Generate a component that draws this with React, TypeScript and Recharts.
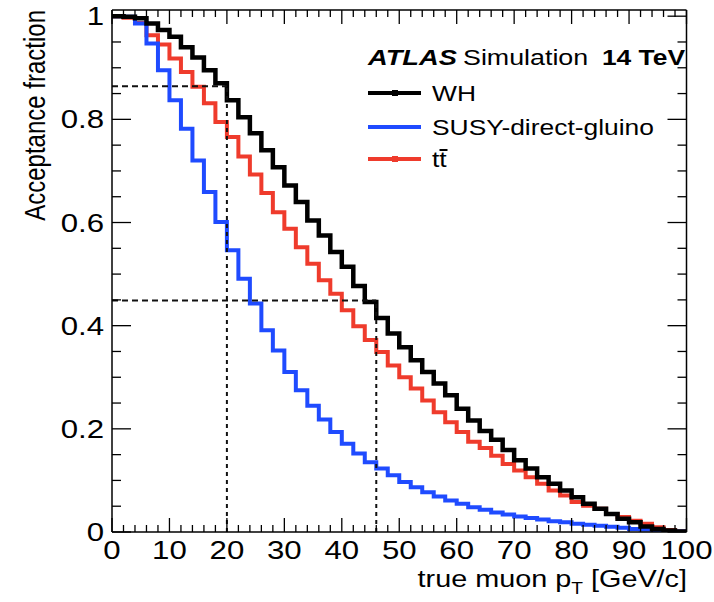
import React from 'react';
import { LineChart, Line, XAxis, YAxis, ReferenceLine } from 'recharts';

// lower edge of each 2 GeV bin
const binLow = [
    0, 2, 4, 6, 8, 10, 12, 14, 16, 18, 20, 22, 24, 26, 28, 30, 32, 34, 36, 38, 40, 42, 44, 46, 48,
    50, 52, 54, 56, 58, 60, 62, 64, 66, 68, 70, 72, 74, 76, 78, 80, 82, 84, 86, 88, 90, 92, 94, 96, 98
];

const whAcc = [
    1.0, 0.999, 0.996, 0.986, 0.973, 0.96, 0.94, 0.92, 0.895, 0.87, 0.837, 0.804, 0.773, 0.74, 0.707,
    0.672, 0.64, 0.604, 0.575, 0.543, 0.514, 0.477, 0.446, 0.415, 0.385, 0.358, 0.333, 0.31, 0.288,
    0.265, 0.239, 0.216, 0.196, 0.179, 0.159, 0.139, 0.123, 0.106, 0.0935, 0.0805, 0.0675, 0.0547,
    0.045, 0.035, 0.0256, 0.019, 0.0107, 0.006, 0.003, 0.001
];

const susyAcc = [
    1.0, 0.999, 0.986, 0.947, 0.895, 0.837, 0.782, 0.72, 0.659, 0.601, 0.546, 0.491, 0.443, 0.391,
    0.352, 0.31, 0.275, 0.245, 0.218, 0.194, 0.171, 0.152, 0.135, 0.123, 0.11, 0.097, 0.087, 0.077,
    0.069, 0.061, 0.055, 0.048, 0.043, 0.038, 0.034, 0.03, 0.027, 0.024, 0.021, 0.019, 0.016, 0.014,
    0.012, 0.01, 0.008, 0.006, 0.005, 0.003, 0.002, 0.001
];

const ttAcc = [
    1.0, 0.997, 0.987, 0.963, 0.945, 0.918, 0.892, 0.863, 0.831, 0.795, 0.766, 0.728, 0.693, 0.657,
    0.62, 0.588, 0.552, 0.52, 0.488, 0.462, 0.43, 0.399, 0.372, 0.349, 0.323, 0.3, 0.278, 0.255,
    0.232, 0.213, 0.194, 0.175, 0.163, 0.148, 0.132, 0.119, 0.106, 0.0935, 0.0805, 0.071, 0.058,
    0.051, 0.045, 0.035, 0.029, 0.022, 0.016, 0.009, 0.004, 0.001
];

// dashed guide lines: cut in pT and the WH acceptance there
const cutPt = [20, 46];
const cutAcc = [0.864, 0.449];

const xTicks = [
    0, 2, 4, 6, 8, 10, 12, 14, 16, 18, 20, 22, 24, 26, 28, 30, 32, 34, 36, 38, 40, 42, 44, 46, 48, 50,
    52, 54, 56, 58, 60, 62, 64, 66, 68, 70, 72, 74, 76, 78, 80, 82, 84, 86, 88, 90, 92, 94, 96, 98, 100
];
const yTicks = [
    0, 0.05, 0.1, 0.15, 0.2, 0.25, 0.3, 0.35, 0.4, 0.45, 0.5, 0.55, 0.6, 0.65, 0.7, 0.75, 0.8, 0.85,
    0.9, 0.95, 1
];
const yMajor = [0, 0.2, 0.4, 0.6, 0.8, 1];
const yLabels = ['0', '0.2', '0.4', '0.6', '0.8', '1'];

const data = binLow.map((pt, i) => ({ pt, wh: whAcc[i], susy: susyAcc[i], tt: ttAcc[i] }));
data.push({
    pt: 100,
    wh: whAcc[whAcc.length - 1],
    susy: susyAcc[susyAcc.length - 1],
    tt: ttAcc[ttAcc.length - 1]
});

const font = '"Liberation Sans", Arial, Helvetica, sans-serif';
const BLUE = '#1f4bff';
const RED = '#ef3b2c';

const isMajorX = (v: number) => v % 10 === 0;
const majorIndexY = (v: number) => yMajor.findIndex((m) => Math.abs(m - v) < 1e-6);

const BottomTick = ({ x, y, payload }: any) => {
    const v = payload.value;
    const major = isMajorX(v);
    return (
        <g>
            <line x1={x} x2={x} y1={y} y2={y - (major ? 14 : 7)} stroke="#000" strokeWidth={1.3} />
            {major && (
                <text
                    transform={`translate(${x},${y + 27}) scale(1.2,1)`}
                    textAnchor="middle"
                    fontSize={26}
                    fontFamily={font}
                    fill="#000"
                >
                    {v}
                </text>
            )}
        </g>
    );
};

const TopTick = ({ x, y, payload }: any) => {
    const major = isMajorX(payload.value);
    return <line x1={x} x2={x} y1={y} y2={y + (major ? 14 : 7)} stroke="#000" strokeWidth={1.3} />;
};

const LeftTick = ({ x, y, payload }: any) => {
    const idx = majorIndexY(payload.value);
    return (
        <g>
            <line x1={x} x2={x + (idx >= 0 ? 19 : 9)} y1={y} y2={y} stroke="#000" strokeWidth={1.3} />
            {idx >= 0 && (
                <text
                    transform={`translate(${x - 8},${y + 9}) scale(1.2,1)`}
                    textAnchor="end"
                    fontSize={26}
                    fontFamily={font}
                    fill="#000"
                >
                    {yLabels[idx]}
                </text>
            )}
        </g>
    );
};

const RightTick = ({ x, y, payload }: any) => {
    const idx = majorIndexY(payload.value);
    return <line x1={x} x2={x - (idx >= 0 ? 19 : 9)} y1={y} y2={y} stroke="#000" strokeWidth={1.3} />;
};

const axisLine = { stroke: '#000', strokeWidth: 1.5 };

const App = () => {
    return (
        <div style={{ position: 'absolute', left: 0, top: 0, width: 714, height: 602, background: '#fff' }}>
            <LineChart width={714} height={602} data={data} margin={{ top: 9, right: 26.5, bottom: 0, left: 0 }}>
                <XAxis
                    dataKey="pt"
                    type="number"
                    domain={[0, 100]}
                    ticks={xTicks}
                    interval={0}
                    height={70}
                    tickSize={0}
                    tickMargin={0}
                    tickLine={false}
                    axisLine={axisLine}
                    tick={BottomTick}
                />
                <XAxis
                    xAxisId="top"
                    orientation="top"
                    dataKey="pt"
                    type="number"
                    domain={[0, 100]}
                    ticks={xTicks}
                    interval={0}
                    height={1}
                    tickSize={0}
                    tickMargin={0}
                    tickLine={false}
                    axisLine={axisLine}
                    tick={TopTick}
                />
                <YAxis
                    type="number"
                    domain={[0, 1.012]}
                    allowDataOverflow
                    ticks={yTicks}
                    interval={0}
                    width={112}
                    tickSize={0}
                    tickMargin={0}
                    tickLine={false}
                    axisLine={axisLine}
                    tick={LeftTick}
                />
                <YAxis
                    yAxisId="right"
                    orientation="right"
                    type="number"
                    domain={[0, 1.012]}
                    allowDataOverflow
                    ticks={yTicks}
                    interval={0}
                    width={1}
                    tickSize={0}
                    tickMargin={0}
                    tickLine={false}
                    axisLine={axisLine}
                    tick={RightTick}
                />
                <Line dataKey="tt" type="stepAfter" stroke={RED} strokeWidth={4} dot={false} isAnimationActive={false} />
                <Line dataKey="susy" type="stepAfter" stroke={BLUE} strokeWidth={4} dot={false} isAnimationActive={false} />
                <Line dataKey="wh" type="stepAfter" stroke="#000" strokeWidth={4.5} dot={false} isAnimationActive={false} />
                {cutPt.map((pt, i) => (
                    <ReferenceLine
                        key={'h' + i}
                        segment={[{ x: 0, y: cutAcc[i] }, { x: pt, y: cutAcc[i] }]}
                        stroke="#111"
                        strokeWidth={2}
                        strokeDasharray="6 4"
                    />
                ))}
                {cutPt.map((pt, i) => (
                    <ReferenceLine
                        key={'v' + i}
                        segment={[{ x: pt, y: 0 }, { x: pt, y: cutAcc[i] }]}
                        stroke="#111"
                        strokeWidth={2}
                        strokeDasharray="4 4"
                    />
                ))}
            </LineChart>

            <svg
                width={714}
                height={602}
                style={{ position: 'absolute', left: 0, top: 0, pointerEvents: 'none' }}
                fontFamily={font}
            >
                {/* axis titles */}
                <text transform="translate(45,10) scale(1.2,1) rotate(-90)" textAnchor="end" fontSize={24} fill="#000">
                    Acceptance fraction
                </text>
                <text transform="translate(687,587) scale(1.2,1)" textAnchor="end" fontSize={24} fill="#000">
                    true muon p
                    <tspan fontSize={16} dy={7}>T</tspan>
                    <tspan dy={-7}>{'  [GeV/c]'}</tspan>
                </text>

                {/* legend */}
                <text transform="translate(368,65) scale(1.24,1)" fontSize={22} fontWeight="bold" fontStyle="italic" fill="#000">
                    ATLAS
                </text>
                <text transform="translate(463,65) scale(1.22,1)" fontSize={22} fill="#000">
                    Simulation
                </text>
                <text transform="translate(685,65) scale(1.2,1)" textAnchor="end" fontSize={22} fontWeight="bold" fill="#000">
                    14 TeV
                </text>

                <line x1={368} x2={421} y1={93} y2={93} stroke="#000" strokeWidth={4} />
                <rect x={392} y={90} width={6} height={6} fill="#000" />
                <text transform="translate(432,101) scale(1.2,1)" fontSize={22} fill="#000">WH</text>

                <line x1={368} x2={421} y1={127} y2={127} stroke={BLUE} strokeWidth={4} />
                <text transform="translate(432,135) scale(1.2,1)" fontSize={22} fill="#000">SUSY-direct-gluino</text>

                <line x1={368} x2={421} y1={159} y2={159} stroke={RED} strokeWidth={4} />
                <rect x={392} y={156} width={6} height={6} fill={RED} />
                <text transform="translate(432,167) scale(1.2,1)" fontSize={22} fill="#000">tt</text>
                <line x1={439.5} x2={447.5} y1={150} y2={150} stroke="#000" strokeWidth={2} />
            </svg>
        </div>
    );
};

export default App;
